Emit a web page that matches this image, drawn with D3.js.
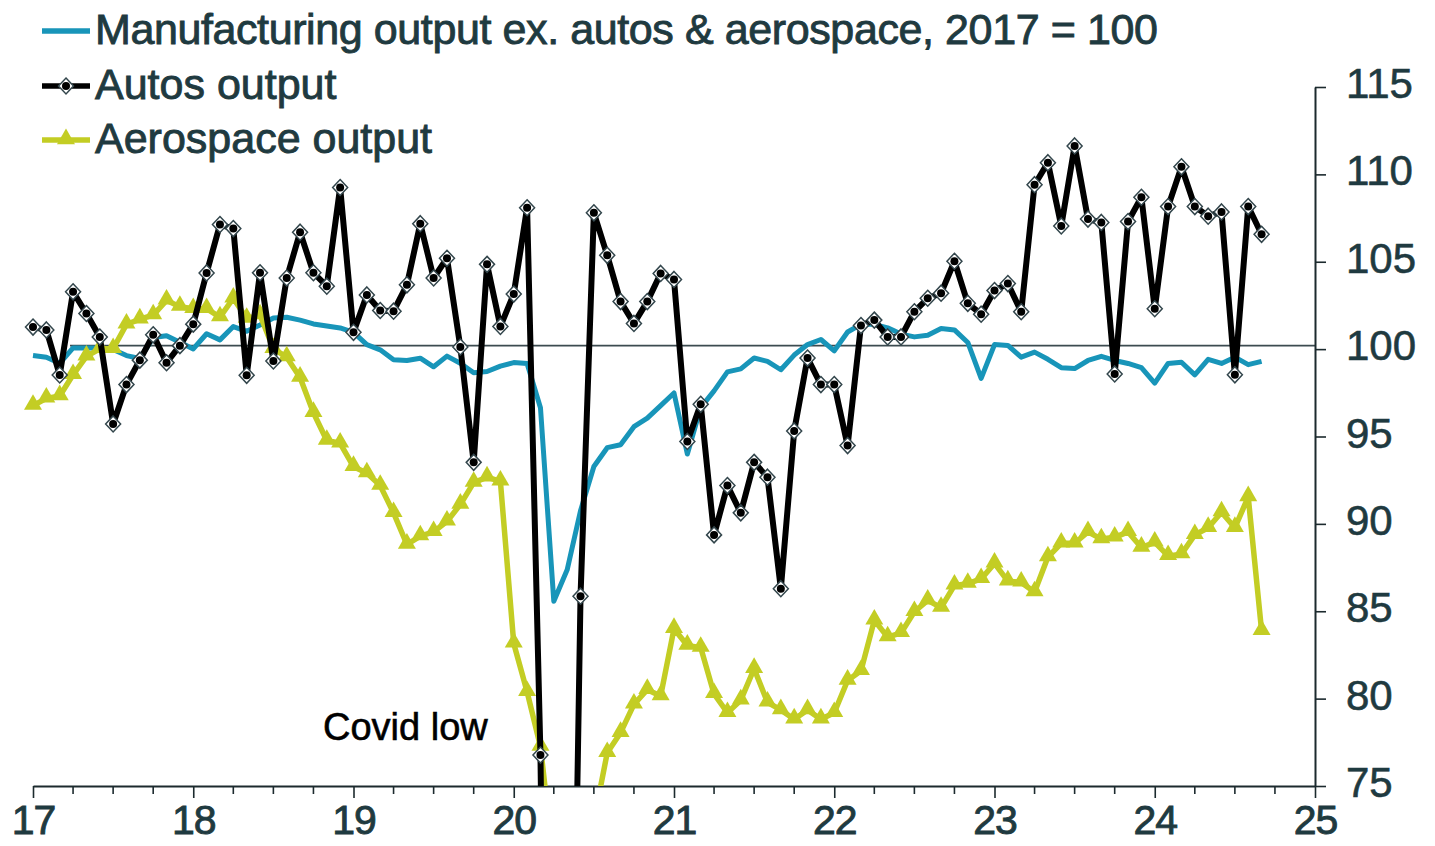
<!DOCTYPE html>
<html><head><meta charset="utf-8">
<script src="https://cdn.jsdelivr.net/npm/d3@7"></script>
<style>
body{margin:0;background:#fff}
svg{display:block}
text{font-family:"Liberation Sans",Arial,sans-serif}
</style>
</head><body>
<svg id="chart" width="1435" height="846"></svg>
<script>
// ---------- data (monthly, Jan 2017 .. Sep 2024) ----------
const firstMonth = 2017;            // series start: January 2017
const manufacturing = [
  99.64,99.54,99.19,100.07,100.07,100.07,99.98,99.63,99.46,100.66,100.77,100.39,
  100.01,100.88,100.53,101.29,101.02,101.38,101.78,101.82,101.66,101.44,101.32,101.21,
  100.96,100.26,99.96,99.39,99.35,99.48,98.99,99.6,99.19,98.65,98.72,99.03,
  99.23,99.18,96.65,85.57,87.37,90.75,93.28,94.36,94.53,95.56,96.05,96.77,
  97.49,94.0,96.65,97.61,98.7,98.87,99.49,99.3,98.82,99.66,100.26,100.55,
  99.9,100.98,101.42,101.42,101.22,100.86,100.7,100.79,101.18,101.1,100.38,98.33,
  100.26,100.21,99.54,99.83,99.42,98.94,98.89,99.35,99.59,99.35,99.18,98.94,
  98.05,99.18,99.25,98.53,99.42,99.18,99.54,99.11,99.3
];
const autos = [
  101.26,101.1,98.52,103.28,102.04,100.69,95.72,97.97,99.37,100.82,99.22,100.2,
  101.43,104.36,107.13,106.9,98.5,104.37,99.32,104.07,106.69,104.37,103.6,109.25,
  100.96,103.1,102.21,102.17,103.68,107.18,104.07,105.2,100.12,93.52,104.85,101.3,
  103.15,108.09,76.77,20.0,40.0,85.86,107.8,105.37,102.72,101.47,102.72,104.33,
  103.99,94.72,96.84,89.37,92.19,90.63,93.52,92.67,86.29,95.32,99.49,97.97,
  97.97,94.48,101.35,101.66,100.7,100.7,102.14,102.91,103.2,105.03,102.62,102.0,
  103.35,103.75,102.14,109.41,110.67,107.05,111.63,107.44,107.25,98.58,107.3,108.69,
  102.31,108.16,110.43,108.16,107.61,107.85,98.53,108.16,106.57
];
const aerospace = [
  96.77,97.18,97.32,98.53,99.59,100.02,100.02,101.42,101.71,101.95,102.79,102.43,
  102.31,102.31,101.83,102.91,101.75,101.95,100.02,99.54,98.38,96.36,94.77,94.61,
  93.27,92.91,92.19,90.63,88.82,89.3,89.54,90.14,91.11,92.36,92.67,92.43,
  83.16,80.39,77.26,70.5,68.0,69.0,73.0,76.9,78.05,79.67,80.51,80.15,
  84.0,83.04,82.92,80.27,79.19,79.91,81.71,79.79,79.35,78.82,79.35,78.82,
  79.19,81.04,81.59,84.48,83.52,83.76,84.97,85.62,85.21,86.48,86.58,86.85,
  87.74,86.72,86.65,86.1,88.1,88.89,88.89,89.54,89.13,89.23,89.54,88.65,
  88.94,88.17,88.27,89.37,89.78,90.67,89.78,91.54,83.88
];
const yTickValues = [75, 80, 85, 90, 95, 100, 105, 110, 115];
const xTickYears = [17, 18, 19, 20, 21, 22, 23, 24, 25];
const referenceLevel = 100.2;
const legendLabels = [
  "Manufacturing output ex. autos & aerospace, 2017 = 100",
  "Autos output",
  "Aerospace output"
];
const annotationText = "Covid low";
const annotationAt = [18.81, 77.65];   // (year axis, value) of the note's left baseline

// ---------- layout ----------
const C = {blue:"#1895b9", black:"#000000", green:"#c3cd24", text:"#1f3a40", axis:"#1c2a2e", ref:"#3c4b50", mark:"#33464c"};
const FONT = '"Liberation Sans",Arial,sans-serif';
const svg = d3.select("#chart");
const x = d3.scaleLinear().domain([17, 25]).range([33, 1315]);
const y = d3.scaleLinear().domain([75, 115]).range([786, 87]);
const monthX = i => x(firstMonth - 2000 + i / 12);

svg.append("defs").append("clipPath").attr("id","plot")
  .append("rect").attr("x", 20).attr("y", y(115) - 10).attr("width", x(25) - 20).attr("height", y(75) - y(115) + 10);

// reference line
svg.append("line")
  .attr("x1", 70).attr("x2", x(25))
  .attr("y1", y(referenceLevel)).attr("y2", y(referenceLevel))
  .attr("stroke", C.ref).attr("stroke-width", 1.6);

// x axis
const xAxis = d3.axisBottom(x).tickValues(xTickYears).tickFormat(d => d).tickSize(12).tickSizeOuter(0);
const gx = svg.append("g").attr("transform", `translate(0,${y(75)})`).call(xAxis);
gx.select(".domain").attr("stroke", C.axis).attr("stroke-width", 2);
gx.selectAll(".tick line").attr("stroke", C.axis).attr("stroke-width", 1.6);
gx.selectAll(".tick text").attr("fill", C.text).attr("font-size", 41).attr("y", 15).attr("dy", "0.8em")
  .attr("stroke", C.text).attr("stroke-width", 0.9).attr("letter-spacing", -1)
  .style("font-family", FONT);
// quarterly minor ticks
const quarters = d3.range(17, 25.001, 0.25).filter(v => Math.abs(v - Math.round(v)) > 1e-6);
svg.append("g").selectAll("line").data(quarters).join("line")
  .attr("x1", d => x(d)).attr("x2", d => x(d))
  .attr("y1", y(75)).attr("y2", y(75) + 8)
  .attr("stroke", C.axis).attr("stroke-width", 1.6);

// right y axis
const yAxis = d3.axisRight(y).tickValues(yTickValues).tickSize(11).tickSizeOuter(0).tickPadding(20);
const gy = svg.append("g").attr("transform", `translate(${x(25)},0)`).call(yAxis);
gy.select(".domain").attr("stroke", C.axis).attr("stroke-width", 2);
gy.selectAll(".tick line").attr("stroke", C.axis).attr("stroke-width", 1.6);
gy.selectAll(".tick text").attr("fill", C.text).attr("font-size", 42).attr("dy", "0.25em")
  .attr("stroke", C.text).attr("stroke-width", 0.6)
  .style("font-family", FONT);

// series
const plot = svg.append("g").attr("clip-path", "url(#plot)");
const lineGen = d3.line().x((d, i) => monthX(i)).y(d => y(d));

plot.append("path").datum(manufacturing).attr("d", lineGen)
  .attr("fill", "none").attr("stroke", C.blue).attr("stroke-width", 5).attr("stroke-linejoin", "round");

plot.append("path").datum(aerospace).attr("d", lineGen)
  .attr("fill", "none").attr("stroke", C.green).attr("stroke-width", 5.5).attr("stroke-linejoin", "round");
const tri = d3.symbol().type(d3.symbolTriangle).size(140);
plot.append("g").selectAll("path").data(aerospace.map((v, i) => [i, v]).filter(d => d[1] >= 75)).join("path")
  .attr("d", tri).attr("transform", d => `translate(${monthX(d[0])},${y(d[1]) - 1})`).attr("fill", C.green);

plot.append("path").datum(autos).attr("d", lineGen)
  .attr("fill", "none").attr("stroke", C.black).attr("stroke-width", 6).attr("stroke-linejoin", "round");
const diamondPath = "M0,-8L7.5,0L0,8L-7.5,0Z";
const dm = plot.append("g").selectAll("g").data(autos.map((v, i) => [i, v]).filter(d => d[1] >= 75)).join("g")
  .attr("transform", d => `translate(${monthX(d[0])},${y(d[1])})`);
dm.append("path").attr("d", diamondPath).attr("fill", "#fff").attr("stroke", C.mark).attr("stroke-width", 1.5);
dm.append("circle").attr("r", 4).attr("fill", C.black);

// annotation
svg.append("text").attr("x", x(annotationAt[0])).attr("y", y(annotationAt[1]))
  .attr("font-size", 38).attr("fill", "#000").attr("stroke", "#000").attr("stroke-width", 0.6)
  .text(annotationText);

// legend
const lg = svg.append("g");
const legendRows = [
  {label: legendLabels[0], color: C.blue, mark: null, ly: 31},
  {label: legendLabels[1], color: C.black, mark: "diamond", ly: 86},
  {label: legendLabels[2], color: C.green, mark: "triangle", ly: 140}
];
legendRows.forEach(r => {
  lg.append("line").attr("x1", 42).attr("x2", 90).attr("y1", r.ly).attr("y2", r.ly)
    .attr("stroke", r.color).attr("stroke-width", 5.5);
  if (r.mark === "diamond") {
    lg.append("path").attr("d", diamondPath).attr("transform", `translate(66,${r.ly})`)
      .attr("fill", "#fff").attr("stroke", C.mark).attr("stroke-width", 1.5);
    lg.append("circle").attr("cx", 66).attr("cy", r.ly).attr("r", 4).attr("fill", C.black);
  } else if (r.mark === "triangle") {
    lg.append("path").attr("d", tri).attr("transform", `translate(66,${r.ly - 1})`).attr("fill", C.green);
  }
  lg.append("text").attr("x", 95).attr("y", r.ly + 13).attr("font-size", 43)
    .attr("fill", C.text).attr("stroke", C.text).attr("stroke-width", 0.9)
    .attr("letter-spacing", r.label.length > 20 ? -0.4 : 0).text(r.label);
});
</script>
</body></html>
